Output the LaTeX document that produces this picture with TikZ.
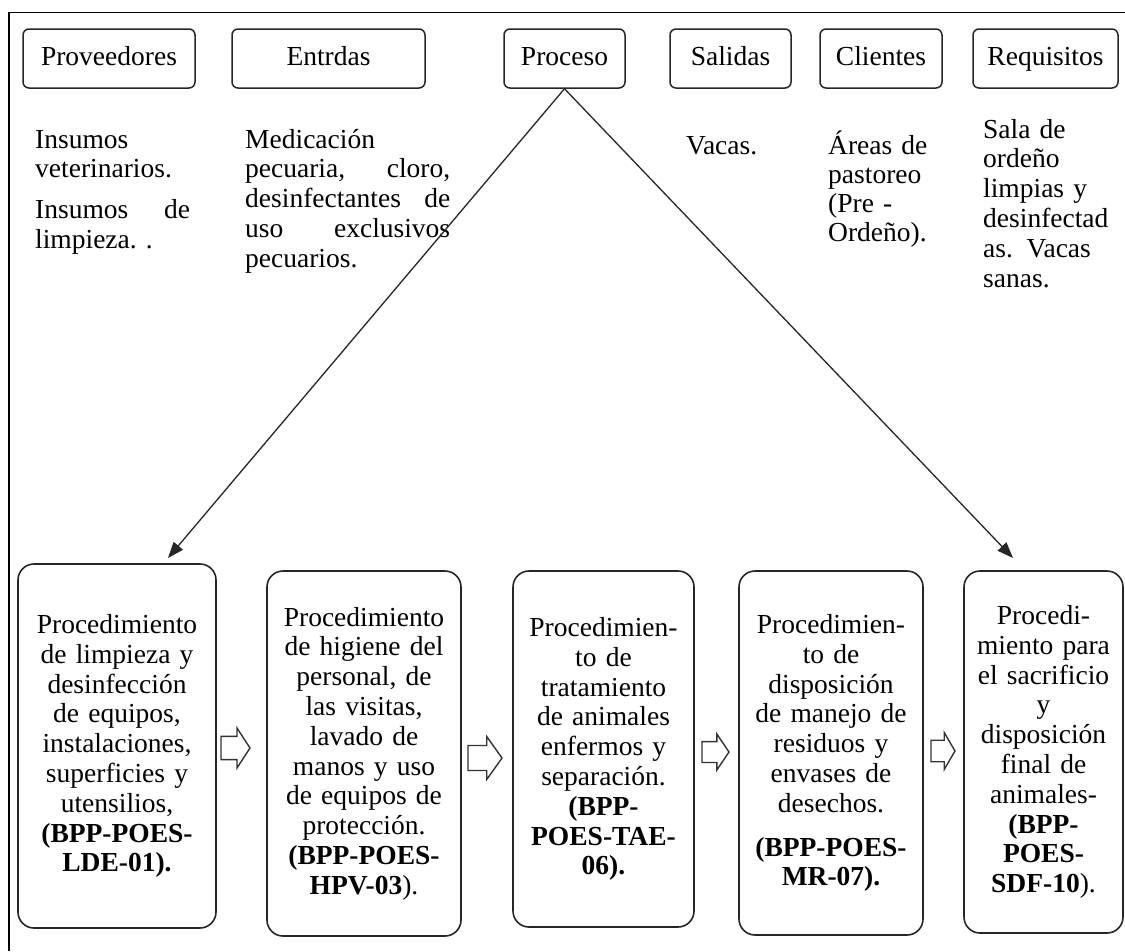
\documentclass[tikz,border=0pt]{standalone}
\usepackage{fontspec}
\setmainfont{Liberation Serif}
\usetikzlibrary{arrows.meta}

% hollow block arrow centred on a coordinate: #1 coordinate, #2 length, #3 height
\newcommand\blockarrow[3]{%
  \draw[blockarr, shift={(#1)}]
    ({-#2/2},{-0.29*#3}) -- ({0.05*#2},{-0.29*#3}) -- ({0.05*#2},{-#3/2})
    -- ({#2/2},0) -- ({0.05*#2},{#3/2}) -- ({0.05*#2},{0.29*#3})
    -- ({-#2/2},{0.29*#3}) -- cycle;}
% a line spread over a given width: #1 width, #2 left words, #3 right word
\newcommand\spreadline[3]{\leavevmode\hbox to #1{#2\hfill #3}}

\begin{document}
\begin{tikzpicture}[x=1pt, y=-1pt,
  basefont/.style={font=\fontsize{27.5}{29.8}\selectfont},
  head/.style={basefont, draw=black!85, line width=1.5pt, rounded corners=6pt,
    inner sep=0pt, minimum height=59pt, text height=19pt, text depth=6pt},
  txt/.style={basefont, inner sep=0pt, align=left, anchor=base west},
  proc/.style={basefont, draw=black!85, line width=1.6pt, rounded corners=16pt,
    inner sep=0pt, align=center},
  conn/.style={draw=black!85, line width=1.3pt, -{Triangle[length=16pt,width=12pt]}},
  blockarr/.style={draw=black!80, line width=1.4pt, fill=white, line join=miter}
]
\useasboundingbox (0,0) rectangle (1125,951);

% outer frame (top and left sides)
\draw[line width=1.4pt] (9,951) -- (9,12.5) -- (1125,12.5);

% column headings
\node[head, minimum width=172pt] (prov) at (109,58.5)   {Proveedores};
\node[head, minimum width=193pt] (entr) at (328.5,58.5) {Entrdas};
\node[head, minimum width=121pt] (proc) at (564.5,58.5) {Proceso};
\node[head, minimum width=121pt] (sal)  at (730.5,58.5) {Salidas};
\node[head, minimum width=122pt] (cli)  at (881,58.5)   {Clientes};
\node[head, minimum width=145pt] (req)  at (1045.5,58.5){Requisitos};

% column contents
\node[txt, text width=160pt] (provtxt) at (35,148)
  {Insumos\\veterinarios.\\[11pt]\spreadline{155pt}{Insumos}{de}\\limpieza.\ .};
\node[txt, text width=210pt] (entrtxt) at (245,148)
  {Medicación\\\spreadline{205pt}{pecuaria,}{cloro,}\\\spreadline{205pt}{desinfectantes}{de}\\\spreadline{205pt}{uso}{exclusivos}\\pecuarios.};
\node[txt] (saltxt) at (686,154) {Vacas.};
\node[txt, text width=125pt, font=\fontsize{27.5}{29.3}\selectfont] (clitxt) at (828,154)
  {Áreas de\\pastoreo\\(Pre -\\Ordeño).};
\node[txt, text width=135pt] (reqtxt) at (983,138)
  {Sala de\\ordeño\\limpias y\\desinfectad\\as. Vacas\\sanas.};

% procedure boxes
\node[proc, minimum width=198pt, minimum height=364pt, text width=186pt] (p1) at (117,746)
  {Procedimiento\\de limpieza y\\desinfección\\de equipos,\\instalaciones,\\superficies y\\utensilios,\\\textbf{(BPP-POES-}\\\textbf{LDE-01).}};
\node[proc, minimum width=194pt, minimum height=365pt, text width=182pt] (p2) at (364,753.5)
  {Procedimiento\\de higiene del\\personal, de\\las visitas,\\lavado de\\manos y uso\\de equipos de\\protección.\\\textbf{(BPP-POES-}\\\textbf{HPV-03}).};
\node[proc, minimum width=181pt, minimum height=356pt, text width=170pt] (p3) at (603.5,749)
  {Procedimien-\\to de\\tratamiento\\de animales\\enfermos y\\separación.\\\textbf{(BPP-}\\\textbf{POES-TAE-}\\\textbf{06).}};
\node[proc, minimum width=184pt, minimum height=364pt, text width=172pt] (p4) at (831,753)
  {Procedimien-\\to de\\disposición\\de manejo de\\residuos y\\envases de\\desechos.\\[14pt]\textbf{(BPP-POES-}\\\textbf{MR-07).}};
\node[proc, minimum width=159pt, minimum height=362pt, text width=150pt] (p5) at (1043.5,752)
  {Procedi-\\miento para\\el sacrificio\\y\\disposición\\final de\\animales-\\\textbf{(BPP-}\\\textbf{POES-}\\\textbf{SDF-10}).};

% hollow arrows between the procedure boxes
\coordinate (a1) at (235.5,748);
\coordinate (a2) at (485,758);
\coordinate (a3) at (715.5,752);
\coordinate (a4) at (943,751);
\blockarrow{a1}{29}{40}
\blockarrow{a2}{34}{43}
\blockarrow{a3}{27}{36}
\blockarrow{a4}{24}{37}

% connectors from the process heading down to the first and last procedures
\coordinate (tipL) at (168,558);
\coordinate (tipR) at (1013,558);
\draw[conn] (proc.south) -- (tipL);
\draw[conn] (proc.south) -- (tipR);
\end{tikzpicture}
\end{document}
